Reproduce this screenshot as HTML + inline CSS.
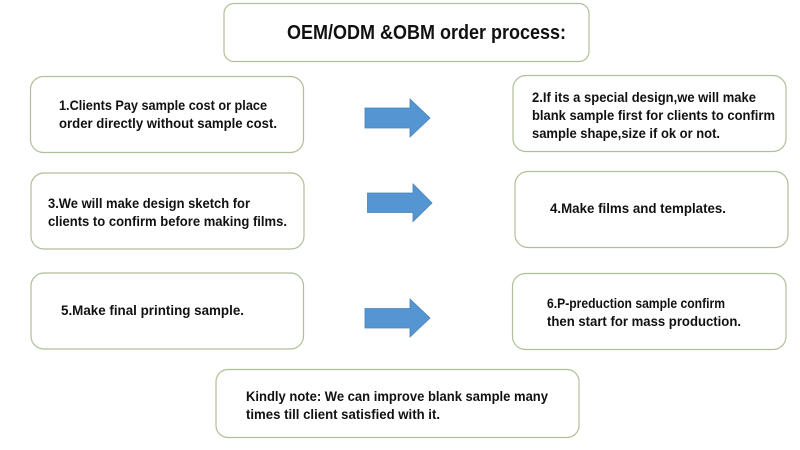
<!DOCTYPE html>
<html>
<head>
<meta charset="utf-8">
<style>
html,body{margin:0;padding:0;background:#fff;width:800px;height:450px;overflow:hidden}
svg{display:block}
text{font-family:"Liberation Sans",sans-serif;font-weight:bold;font-size:14px;fill:#111}
rect{fill:#fff;stroke:#b0bf98;stroke-width:1.2}
polygon{fill:#5596d2;stroke:#4a80b5;stroke-width:.8}
</style>
</head>
<body>
<svg width="800" height="450" viewBox="0 0 800 450" xmlns="http://www.w3.org/2000/svg">
<rect x="224" y="3.500" width="365" height="58" rx="10"/>
<rect x="30.500" y="76.500" width="273" height="76" rx="13"/>
<rect x="31" y="173" width="273" height="76" rx="13"/>
<rect x="31" y="273" width="272.500" height="76" rx="13"/>
<rect x="513" y="75.500" width="273" height="76" rx="13"/>
<rect x="515" y="171.500" width="273" height="76" rx="13"/>
<rect x="512.500" y="273.500" width="273.500" height="76" rx="13"/>
<rect x="216" y="369.500" width="363" height="68" rx="12"/>
<polygon points="365,108 410,108 410,99 430,118 410,137 410,128 365,128"/>
<polygon points="367.500,193 413,193 413,184 432,203 413,221.500 413,212.500 367.500,212.500"/>
<polygon points="365,308.500 410,308.500 410,299 430,318 410,337 410,328 365,328"/>
<text x="287" y="39" style="font-size:20px" textLength="279" lengthAdjust="spacingAndGlyphs">OEM/ODM &amp;OBM order process:</text>
<text x="59" y="110" textLength="208" lengthAdjust="spacingAndGlyphs">1.Clients Pay sample cost or place</text>
<text x="59" y="128" textLength="218" lengthAdjust="spacingAndGlyphs">order directly without sample cost.</text>
<text x="48" y="208" textLength="202" lengthAdjust="spacingAndGlyphs">3.We will make design sketch for</text>
<text x="48" y="226" textLength="239" lengthAdjust="spacingAndGlyphs">clients to confirm before making films.</text>
<text x="61" y="315" textLength="183" lengthAdjust="spacingAndGlyphs">5.Make final printing sample.</text>
<text x="532" y="102" textLength="224" lengthAdjust="spacingAndGlyphs">2.If its a special design,we will make</text>
<text x="532" y="120" textLength="243" lengthAdjust="spacingAndGlyphs">blank sample first for clients to confirm</text>
<text x="532" y="138" textLength="188" lengthAdjust="spacingAndGlyphs">sample shape,size if ok or not.</text>
<text x="550" y="213" textLength="176" lengthAdjust="spacingAndGlyphs">4.Make films and templates.</text>
<text x="547" y="308" textLength="178" lengthAdjust="spacingAndGlyphs">6.P-preduction sample confirm</text>
<text x="547" y="326" textLength="194" lengthAdjust="spacingAndGlyphs">then start for mass production.</text>
<text x="246" y="401" textLength="302" lengthAdjust="spacingAndGlyphs">Kindly note: We can improve blank sample many</text>
<text x="246" y="419" textLength="194" lengthAdjust="spacingAndGlyphs">times till client satisfied with it.</text>
</svg>
</body>
</html>
